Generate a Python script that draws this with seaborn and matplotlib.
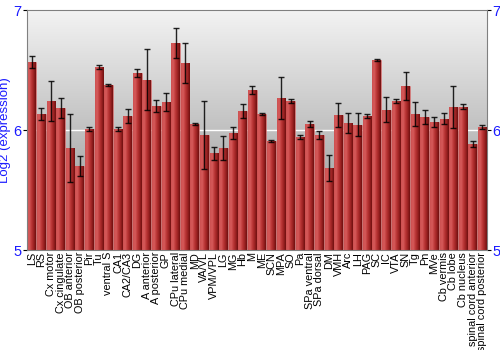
import matplotlib
matplotlib.use("Agg")
import matplotlib.pyplot as plt
import numpy as np
import pandas as pd
import seaborn as sns
from matplotlib.colors import LinearSegmentedColormap

regions = [
    "LS", "RS", "Cx motor", "Cx cingulate", "OB anterior", "OB posterior", "Pir", "Tu",
    "ventral S", "CA1", "CA2/CA3", "DG", "A anterior", "A posterior", "GP", "CPu lateral",
    "CPu medial", "MD", "VA/VL", "VPM/VPL", "LG", "MG", "Hb", "M", "ME", "SCN", "MPA", "SO",
    "Pa", "SPa ventral", "SPa dorsal", "DM", "VMH", "Arc", "LH", "PAG", "SC", "IC", "VTA",
    "SN", "Tg", "Pn", "MVe", "Cb vermis", "Cb lobe", "Cb nucleus", "spinal cord anterior",
    "spinal cord posterior",
]
expression = [
    6.567, 6.133, 6.242, 6.183, 5.85, 5.70, 6.008, 6.525,
    6.375, 6.008, 6.117, 6.475, 6.417, 6.20, 6.233, 6.725,
    6.558, 6.05, 5.958, 5.808, 5.85, 5.975, 6.158, 6.333, 6.133, 5.908, 6.267, 6.242,
    5.942, 6.05, 5.958, 5.683, 6.125, 6.058, 6.042, 6.117, 6.583, 6.167, 6.242,
    6.367, 6.133, 6.108, 6.067, 6.092, 6.192, 6.192, 5.883,
    6.025,
]
error = [
    0.05, 0.05, 0.167, 0.08, 0.283, 0.083, 0.017, 0.017,
    0.008, 0.017, 0.058, 0.033, 0.254, 0.046, 0.075, 0.125,
    0.17, 0.008, 0.28, 0.054, 0.096, 0.05, 0.058, 0.03, 0.008, 0.008, 0.175, 0.02,
    0.02, 0.025, 0.033, 0.108, 0.104, 0.08, 0.096, 0.017, 0.005, 0.104, 0.017,
    0.117, 0.1, 0.058, 0.04, 0.046, 0.175, 0.021, 0.025,
    0.02,
]

BLUE = "#1a1aff"
plt.rcParams["font.family"] = ["Liberation Sans", "DejaVu Sans"]
df = pd.DataFrame({"region": regions, "expression": expression, "error": error})

fig = plt.figure(figsize=(5, 3.5), dpi=100)
ax = fig.add_axes([0.054, 0.2857, 0.92, 0.6857])

sns.barplot(data=df, x="region", y="expression", color="#b03030", width=0.9,
            saturation=1, errorbar=None, ax=ax, zorder=2)

xlim = (-0.5, len(regions) - 0.5)
ylim = (5, 7)

# grey vertical gradient background, light at the top
bg = np.linspace(0, 1, 256).reshape(-1, 1)
bg_cmap = LinearSegmentedColormap.from_list("bg", ["#f3f3f3", "#8e8e8e"])
ax.imshow(bg, cmap=bg_cmap, extent=(*xlim, *ylim), aspect="auto", zorder=0)

# cylinder-like shading on each bar
bar_cmap = LinearSegmentedColormap.from_list(
    "bar", ["#cc5050", "#d65a5a", "#bc3838", "#9c2222", "#701010"])
grad = np.linspace(0, 1, 64).reshape(1, -1)
for p in ax.patches:
    x0, w, h = p.get_x(), p.get_width(), p.get_height()
    p.set_edgecolor("#e08080")
    p.set_linewidth(0.4)
    im = ax.imshow(grad, cmap=bar_cmap, extent=(x0, x0 + w, ylim[0], h),
                   aspect="auto", zorder=2.5)
    im.set_clip_path(p)

ax.errorbar(range(len(regions)), expression, yerr=error, fmt="none",
            ecolor="black", elinewidth=1, capsize=2.5, capthick=1, alpha=0.85, zorder=3)

ax.set_xlim(*xlim)
ax.set_ylim(*ylim)
ax.set_yticks([5, 6, 7])
ax.yaxis.grid(True, color="white", linewidth=1)
for line in ax.get_ygridlines():
    line.set_zorder(1)

ax.set_xlabel("")
ax.set_ylabel("Log2 (expression)", color=BLUE, fontsize=9.5, labelpad=2)
ax.tick_params(axis="x", rotation=90, labelsize=7.8, length=0, pad=1.5)
ax.tick_params(axis="y", colors="black", labelcolor=BLUE, labelsize=10.5,
               length=3, right=True, labelright=True, pad=1)
for s in ax.spines.values():
    s.set_color("#808080")

fig.savefig("out.png", dpi=100)
